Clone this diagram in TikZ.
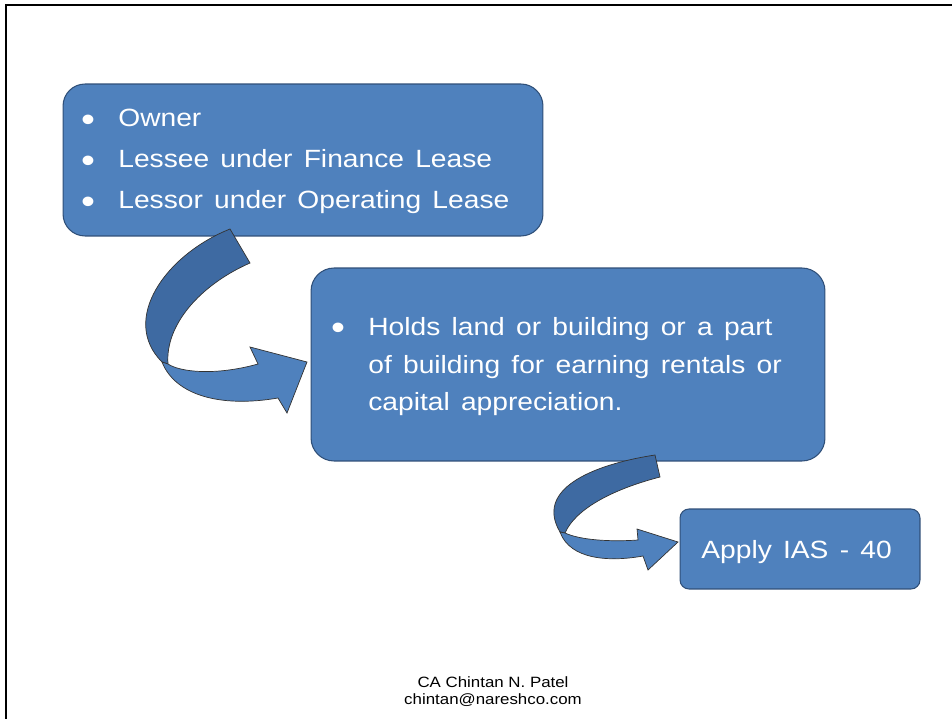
\documentclass[tikz,border=0pt]{standalone}
\usepackage{fontspec}
\setmainfont[FakeStretch=1.13]{Liberation Sans}
\usepackage{xcolor}
\usepackage{tikz}
\definecolor{boxblue}{HTML}{4F81BD}
\definecolor{boxline}{HTML}{2F4F78}
\definecolor{backblue}{HTML}{3E6AA2}
\newcommand{\widewords}{\spaceskip 0.45em plus 0.1em\relax}
\tikzset{
  slidebox/.style={draw=boxline, fill=boxblue, line width=0.6pt, inner sep=0pt},
  boxtext/.style={text=white, anchor=base west, inner sep=0pt,
    font=\fontsize{14.2pt}{17pt}\selectfont, execute at begin node=\widewords},
  dot/.style={text=white, anchor=center, inner sep=0pt, font=\fontsize{20pt}{20pt}\selectfont},
  ribbonback/.style={fill=backblue, draw=black!80, line width=0.4pt},
  ribbonfront/.style={fill=boxblue, draw=black!80, line width=0.4pt}
}

\begin{document}
\begin{tikzpicture}[x=0.02cm, y=-0.02cm]
\useasboundingbox (0,0) rectangle (952,719);

% frame
\draw[line width=1.6pt] (6,719) -- (6,5) -- (952,5);

\node[slidebox, rounded corners=0.44cm, minimum width=9.6cm, minimum height=3.04cm] (box1) at (303,160) {};
\node[slidebox, rounded corners=0.46cm, minimum width=10.28cm, minimum height=3.86cm] (box2) at (568,364.5) {};
\node[slidebox, rounded corners=0.18cm, minimum width=4.8cm, minimum height=1.6cm] (box3) at (800,549) {};

\begin{scope}[every node/.style=boxtext]
\node (owner) at (118,127) {Owner};
\node (lessee) at (118,168) {Lessee under Finance Lease};
\node (lessor) at (118,209) {Lessor under Operating Lease};
\node (holds) at (368,335) {Holds land or building or a part};
\node (earning) at (368,373) {of building for earning rentals or};
\node (capital) at (368,410) {capital appreciation.};
\node (apply) at (701,558) {Apply IAS - 40};
\end{scope}

\begin{scope}[every node/.style=dot]
\node (b1) at (88,123) {\textbullet};
\node (b2) at (88,164) {\textbullet};
\node (b3) at (88,205) {\textbullet};
\node (b4) at (338,331) {\textbullet};
\end{scope}

% first ribbon arrow
\draw[ribbonback] (230,229) .. controls (165,255) and (120,320) .. (162,362)
  -- (168,364) .. controls (165,325) and (200,285) .. (250,263) -- cycle;
\draw[ribbonfront] (162,362) .. controls (175,395) and (220,408) .. (278,398)
  -- (287,413) -- (307,362) -- (250,347) -- (258,364)
  .. controls (215,376) and (180,372) .. (168,364) -- cycle;

% second ribbon arrow
\draw[ribbonback] (655,455) .. controls (590,465) and (535,490) .. (560,532)
  -- (565,533) .. controls (575,510) and (610,490) .. (660,477) -- cycle;
\draw[ribbonfront] (560,532) .. controls (570,560) and (610,562) .. (643,556)
  -- (648,570) -- (678,542) -- (637,529) -- (638,540)
  .. controls (610,542) and (580,540) .. (565,533) -- cycle;

\node[font=\fontsize{8.5pt}{10pt}\selectfont, anchor=base, inner sep=0pt] (author) at (493,687) {CA Chintan N. Patel};
\node[font=\fontsize{8.5pt}{10pt}\selectfont, anchor=base, inner sep=0pt] (mail) at (493,704) {chintan@nareshco.com};

\end{tikzpicture}
\end{document}
